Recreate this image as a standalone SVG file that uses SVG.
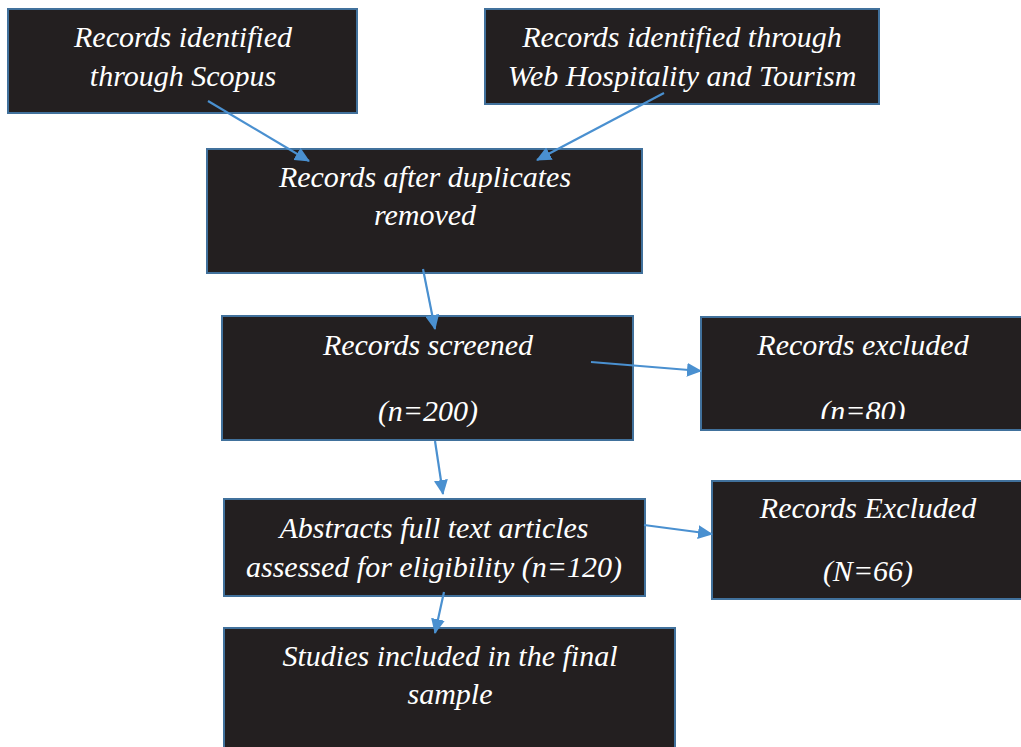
<svg xmlns="http://www.w3.org/2000/svg" width="1021" height="747" viewBox="0 0 1021 747">
<style>
.box{fill:#231f20;stroke:#41719c;stroke-width:2}
.t{fill:#ffffff;font-family:"Liberation Serif","Times New Roman",serif;font-style:italic;font-size:30px;text-anchor:middle}
.c{stroke:#4a90d0;stroke-width:2.2;fill:none;marker-end:url(#ah)}
</style>
<defs>
<marker id="ah" markerWidth="16" markerHeight="14" refX="14" refY="7" orient="auto" markerUnits="userSpaceOnUse">
<path d="M0,0 L15,7 L0,14 Z" fill="#4a90d0"/>
</marker>
<clipPath id="clip80"><rect x="700" y="316" width="321" height="103"/></clipPath>
</defs>
<rect width="1021" height="747" fill="#ffffff"/>
<g id="n1"><rect class="box" x="8" y="9" width="349" height="104"/>
<text class="t" x="183" y="47">Records identified</text><text class="t" x="183" y="86">through Scopus</text></g>
<g id="n2"><rect class="box" x="485" y="9" width="394" height="95"/>
<text class="t" x="682" y="47">Records identified through</text><text class="t" x="682" y="86">Web Hospitality and Tourism</text></g>
<g id="n3"><rect class="box" x="207" y="149" width="435" height="124"/>
<text class="t" x="425" y="187">Records after duplicates</text><text class="t" x="425" y="225">removed</text></g>
<g id="n4"><rect class="box" x="222" y="316" width="411" height="124"/>
<text class="t" x="428" y="355">Records screened</text><text class="t" x="428" y="421">(n=200)</text></g>
<g id="n5"><rect class="box" x="701" y="317" width="330" height="113"/>
<text class="t" x="863" y="355">Records excluded</text><text class="t" x="863" y="421" clip-path="url(#clip80)">(n=80)</text></g>
<g id="n6"><rect class="box" x="224" y="499" width="421" height="97"/>
<text class="t" x="434" y="538">Abstracts full text articles</text><text class="t" x="434" y="577">assessed for eligibility (n=120)</text></g>
<g id="n7"><rect class="box" x="712" y="481" width="319" height="118"/>
<text class="t" x="868" y="518">Records Excluded</text><text class="t" x="868" y="581">(N=66)</text></g>
<g id="n8"><rect class="box" x="224" y="628" width="451" height="130"/>
<text class="t" x="450" y="666">Studies included in the final</text><text class="t" x="450" y="704">sample</text></g>
<g id="connectors">
<line class="c" x1="208" y1="101" x2="309" y2="161"/>
<line class="c" x1="664" y1="93" x2="537" y2="160"/>
<line class="c" x1="423" y1="269" x2="435" y2="329"/>
<line class="c" x1="591" y1="362" x2="701" y2="371"/>
<line class="c" x1="435" y1="441" x2="443" y2="494"/>
<line class="c" x1="644" y1="525" x2="712" y2="534"/>
<line class="c" x1="444" y1="592" x2="435" y2="633"/>
</g>
</svg>
